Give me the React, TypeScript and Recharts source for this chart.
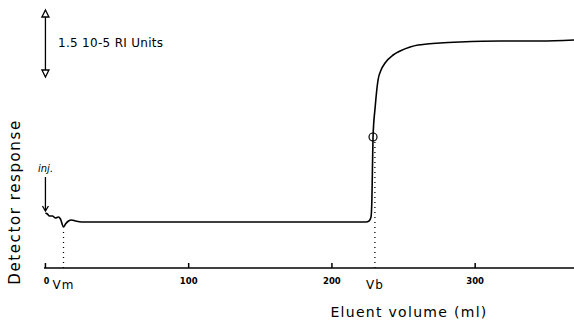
import { ComposedChart, Line, XAxis, YAxis, ReferenceLine, ReferenceDot } from "recharts"

// eluent volume (ml) and detector response (arbitrary units)
const volume = [
  0, 1.4, 2.8, 4.9, 7.0, 9.1, 10.5, 12.6, 14.0, 16.1, 18.2, 21.0, 25.2, 51.7, 107.7, 177.6,
  223.8, 225.9, 227.3, 227.9, 228.7, 230.2, 232.2, 234.3, 237.1, 242.7, 247.6, 254.6, 260.2,
  266.5, 275.5, 289.5, 317.5, 345.5, 369,
]
const response = [
  55, 54, 52, 52, 50, 51, 49, 41, 44, 47, 48, 47, 46, 46, 46, 46,
  46, 47, 51, 68, 131, 161, 188, 198, 205, 213, 217, 221, 223,
  224, 225, 226, 227, 227, 228,
]

const xTicks = [0, 100, 200, 300]
const vm = 12.6
const vb = 230
const vbPoint = { x: 228.7, y: 131 }

const data = volume.map((v, i) => ({ v, r: response[i] }))

const FONT = "'DejaVu Sans', sans-serif"

const Tick = (props: any) => {
  const { x, y, payload } = props
  const val = payload.value
  if (val === vm || val === vb) {
    return (
      <text x={x} y={y + 21} textAnchor="middle" fontSize={12} fontFamily={FONT} fill="#000" letterSpacing={1}>
        {val === vm ? "Vm" : "Vb"}
      </text>
    )
  }
  if (val === 0) {
    return (
      <g>
        <line x1={x} y1={y - 5} x2={x} y2={y} stroke="#000" strokeWidth={1.5} />
        <text x={x + 1} y={y + 16} textAnchor="middle" fontSize={8} fontWeight="bold" fontFamily={FONT} fill="#000">0</text>
      </g>
    )
  }
  return (
    <g>
      <line x1={x} y1={y - 5} x2={x} y2={y} stroke="#000" strokeWidth={1.5} />
      <text x={x} y={y + 16} textAnchor="middle" fontSize={8.5} fontWeight="bold" fontFamily={FONT} fill="#000">{val}</text>
    </g>
  )
}

const ScaleArrow = (props: any) => {
  const { x1, y1, y2 } = props
  const top = Math.min(y1, y2)
  const bot = Math.max(y1, y2)
  return (
    <g stroke="#000" strokeWidth={1.3} fill="#fff">
      <line x1={x1} y1={top + 6} x2={x1} y2={bot - 6} />
      <polygon points={`${x1 - 3.5},${top + 7} ${x1 + 3.5},${top + 7} ${x1},${top}`} />
      <polygon points={`${x1 - 3.5},${bot - 7} ${x1 + 3.5},${bot - 7} ${x1},${bot}`} />
    </g>
  )
}

const InjArrow = (props: any) => {
  const { x1, y1, y2 } = props
  const top = Math.min(y1, y2)
  const bot = Math.max(y1, y2)
  return (
    <g stroke="#000" strokeWidth={1.3} fill="none">
      <line x1={x1} y1={top} x2={x1} y2={bot} />
      <polyline points={`${x1 - 3},${bot - 5} ${x1},${bot} ${x1 + 3},${bot - 5}`} />
    </g>
  )
}

export default function App() {
  return (
    <div style={{ position: "absolute", left: 0, top: 0, background: "#fff" }}>
      <ComposedChart width={574} height={326} data={data} margin={{ top: 38, right: 0, bottom: 28, left: 44 }}>
        <XAxis
          dataKey="v"
          type="number"
          domain={[-1, 369]}
          ticks={[...xTicks, vm, vb]}
          interval={0}
          allowDataOverflow
          height={30}
          axisLine={{ stroke: "#000", strokeWidth: 1.5 }}
          tickLine={false}
          tickSize={0}
          tickMargin={0}
          tick={<Tick />}
        />
        <YAxis hide domain={[0, 230]} allowDataOverflow />
        <ReferenceLine
          segment={[{ x: vm, y: 0 }, { x: vm, y: 40 }]}
          stroke="#000"
          strokeWidth={1.3}
          strokeDasharray="1 4"
          ifOverflow="visible"
        />
        <ReferenceLine
          segment={[{ x: vb, y: 0 }, { x: vb, y: 127 }]}
          stroke="#000"
          strokeWidth={1.3}
          strokeDasharray="1 4"
          ifOverflow="visible"
        />
        <ReferenceLine
          segment={[{ x: 0, y: 258 }, { x: 0, y: 191 }]}
          ifOverflow="visible"
          shape={<ScaleArrow />}
        />
        <ReferenceLine
          segment={[{ x: 0, y: 91 }, { x: 0, y: 57 }]}
          ifOverflow="visible"
          shape={<InjArrow />}
        />
        <Line
          dataKey="r"
          type="monotone"
          stroke="#000"
          strokeWidth={1.6}
          dot={false}
          isAnimationActive={false}
        />
        <ReferenceDot x={vbPoint.x} y={vbPoint.y} r={4} fill="none" stroke="#000" strokeWidth={1.2} ifOverflow="visible" />
        <text x={58} y={47} fontSize={12} fontFamily={FONT} fill="#000" letterSpacing={0.3}>1.5 10-5 RI Units</text>
        <text x={38} y={172} fontSize={10} fontStyle="italic" fontFamily={FONT} fill="#000">inj.</text>
        <text
          x={20}
          y={202}
          transform="rotate(-90 20 202)"
          textAnchor="middle"
          fontSize={15}
          fontFamily={FONT}
          fill="#000"
          letterSpacing={1.6}
        >
          Detector response
        </text>
        <text x={409} y={317} textAnchor="middle" fontSize={14} fontFamily={FONT} fill="#000" letterSpacing={1.3}>
          Eluent volume (ml)
        </text>
      </ComposedChart>
    </div>
  )
}
